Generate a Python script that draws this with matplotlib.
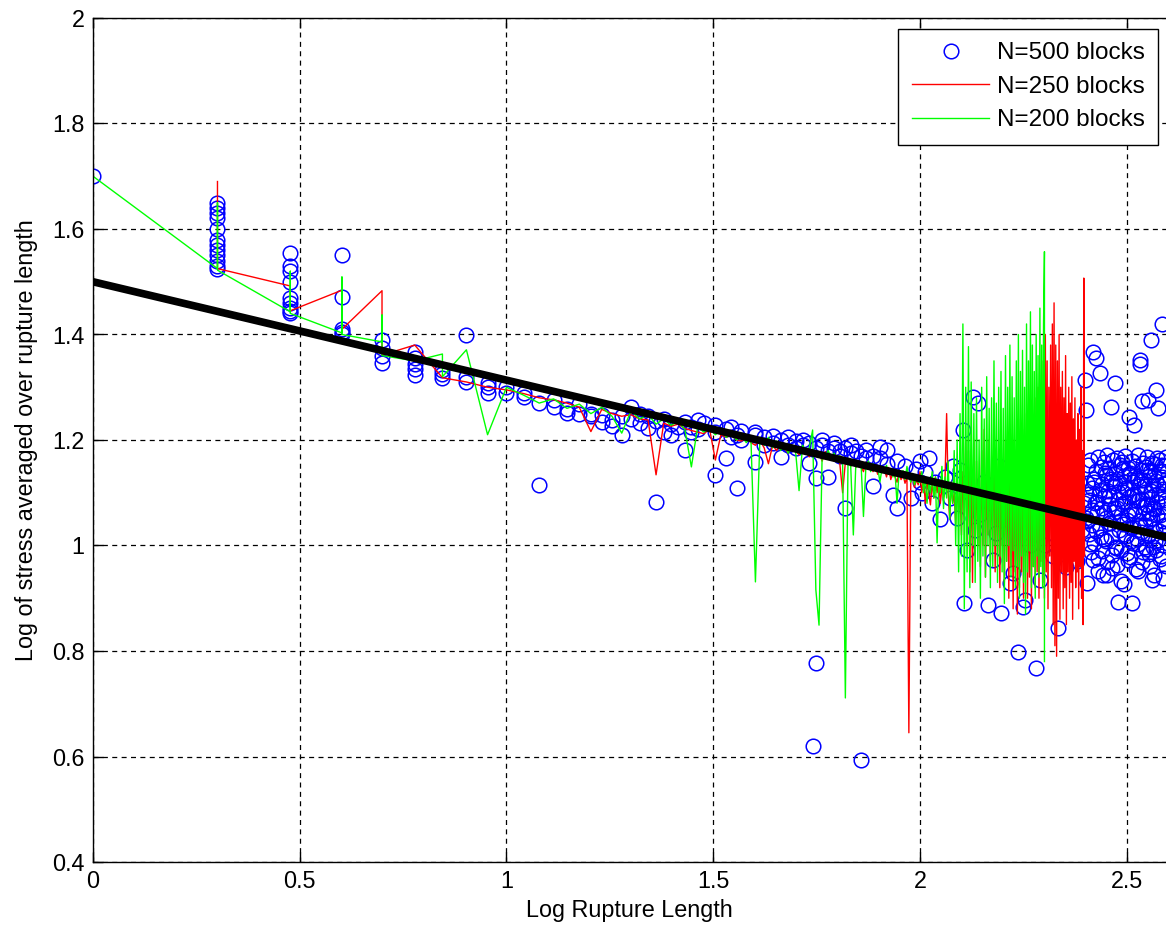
import numpy as np
import matplotlib.pyplot as plt

# rupture lengths (blocks) and log stress

# N=500 blocks (blue circles)
blue_len_a = [1,
              2, 2, 2, 2, 2, 2, 2, 2, 2, 2, 2, 2,
              3, 3, 3, 3, 3, 3, 3, 3, 3,
              4, 4, 4, 4, 4,
              5, 5, 5, 5,
              6, 6, 6, 6, 6,
              7, 7, 7,
              8, 8, 8,
              9, 9, 9,
              10, 10]
blue_val_a = [1.70,
              1.525, 1.53, 1.54, 1.55, 1.56, 1.57, 1.58, 1.60, 1.62, 1.63, 1.64, 1.65,
              1.44, 1.445, 1.45, 1.46, 1.47, 1.50, 1.52, 1.53, 1.555,
              1.40, 1.405, 1.41, 1.472, 1.551,
              1.346, 1.36, 1.375, 1.39,
              1.323, 1.335, 1.345, 1.355, 1.367,
              1.318, 1.325, 1.333,
              1.31, 1.32, 1.399,
              1.289, 1.30, 1.308,
              1.29, 1.30]

blue_len_b = [11, 11, 12, 12, 13, 13, 14, 14, 15, 15,
              16, 16, 17, 17, 18, 18, 19, 19, 20, 20,
              21, 21, 22, 22, 23, 23, 24, 24, 25, 25,
              26, 27, 27, 28, 28, 29, 29, 30, 32, 32,
              32, 34, 34, 35, 35, 36, 36, 37, 37, 40,
              40, 40, 42, 42, 44, 44, 46, 46, 48, 48,
              50, 50, 52, 52, 54, 54, 55, 56, 56, 56,
              58, 58, 60, 60, 62, 62, 64, 64, 66, 66,
              68, 68, 70, 72, 72, 74, 74, 77, 77, 80,
              80, 83, 83, 86, 88, 88, 92, 95, 98, 100,
              100]
blue_val_b = [1.29, 1.282, 1.27, 1.115, 1.275, 1.262, 1.251, 1.258, 1.25, 1.268,
              1.245, 1.25, 1.235, 1.248, 1.238, 1.226, 1.21, 1.245, 1.263, 1.24,
              1.232, 1.25, 1.222, 1.245, 1.083, 1.236, 1.215, 1.24, 1.23, 1.21,
              1.225, 1.181, 1.235, 1.215, 1.225, 1.238, 1.22, 1.232, 1.134, 1.215,
              1.228, 1.166, 1.22, 1.205, 1.225, 1.109, 1.21, 1.2, 1.218, 1.159,
              1.21, 1.216, 1.205, 1.19, 1.195, 1.208, 1.168, 1.2, 1.19, 1.205,
              1.198, 1.185, 1.19, 1.2, 1.156, 1.195, 0.62, 1.128, 1.185, 0.777,
              1.19, 1.2, 1.13, 1.18, 1.185, 1.195, 1.17, 1.18, 1.071, 1.185,
              1.19, 1.175, 1.18, 0.593, 1.17, 1.181, 1.165, 1.112, 1.17, 1.187,
              1.165, 1.181, 1.155, 1.096, 1.071, 1.16, 1.15, 1.09, 1.145, 1.12,
              1.16]

blue_len_c = [101, 103, 105, 107, 109, 112, 115, 118, 120, 123,
              125, 127, 128, 130, 132, 134, 136, 138, 140, 143,
              146, 148, 150, 153, 155, 157, 160, 162, 165, 168,
              170, 173, 175, 177, 179, 182, 185, 188, 191, 193,
              195, 198, 201, 204, 207, 210, 213, 216, 219, 222,
              225, 228, 231, 234, 237, 240, 243, 246, 249]
blue_val_c = [1.10, 1.14, 1.166, 1.08, 1.12, 1.05, 1.13, 1.09, 1.15, 1.052,
              1.143, 1.219, 0.891, 0.991, 1.10, 1.282, 1.029, 1.27, 1.06, 1.12,
              0.887, 1.08, 0.972, 1.024, 1.15, 0.872, 1.10, 1.05, 0.929, 0.948,
              1.12, 0.799, 1.04, 0.884, 0.897, 1.10, 1.0, 1.15, 0.768, 1.05,
              0.935, 1.12, 1.0, 1.08, 1.15, 0.98, 1.10, 0.844, 1.04, 1.12,
              0.96, 1.06, 1.14, 1.0, 1.09, 0.97, 1.12, 1.03, 1.08]

# cloud beyond the end of the shorter runs (lengths 251..394)
cloud_len_a = list(range(251, 395))
cloud_a = [1.314, 1.257, 1.118, 1.046, 1.153, 1.021, 1.087, 1.163, 0.987, 1.109,
           1.038, 1.367, 1.127, 1.004, 1.081, 1.355, 1.141, 1.062, 1.168, 0.976,
           1.097, 1.327, 1.033, 1.149, 1.072, 1.116, 0.945, 1.158, 1.012, 1.093,
           1.134, 1.052, 1.171, 0.968, 1.104, 1.043, 1.147, 1.079, 1.263, 1.017,
           1.123, 0.958, 1.162, 1.064, 1.112, 1.308, 0.997, 1.138, 1.071, 1.166,
           0.893, 1.088, 1.029, 1.152, 1.119, 0.991, 1.057, 1.159, 1.041, 1.102,
           1.131, 0.927, 1.083, 1.169, 1.018, 1.107, 1.049, 1.146, 0.973, 1.092,
           1.244, 1.137, 1.008, 1.068, 0.891, 1.161, 1.121, 1.036, 1.228, 1.098,
           1.059, 1.151, 0.955, 1.128, 1.084, 1.002, 1.172, 1.047, 1.113, 1.352,
           1.345, 1.026, 1.143, 1.089, 1.273, 0.988, 1.157, 1.073, 1.124, 1.039,
           1.101, 1.148, 0.993, 1.077, 1.167, 1.275, 1.019, 1.132, 1.061, 0.962,
           1.139, 1.091, 1.39, 1.053, 1.156, 0.998, 1.114, 0.944, 1.069, 1.154,
           1.031, 1.122, 1.295, 1.082, 1.165, 1.26, 1.011, 1.099, 1.142, 1.058,
           1.163, 0.981, 1.094, 1.42, 1.129, 1.037, 1.108, 0.938, 1.151, 1.074,
           1.117, 1.024, 1.168, 1.086]
cloud_len_b = list(range(252, 395, 2))
cloud_b = [1.052, 0.929, 1.097, 1.003, 1.068, 0.972, 1.121, 1.028, 1.083, 0.951,
           1.106, 1.017, 0.989, 1.063, 1.138, 1.009, 0.945, 1.093, 1.042, 1.127,
           0.982, 1.071, 1.118, 0.996, 0.963, 1.102, 1.047, 0.932, 1.079, 1.147,
           1.021, 1.109, 0.986, 1.058, 1.136, 0.978, 1.034, 1.096, 1.004, 1.066,
           1.131, 1.013, 0.952, 1.087, 1.039, 1.124, 0.968, 1.061, 1.112, 0.997,
           1.078, 1.143, 1.018, 0.983, 1.051, 1.104, 0.934, 1.072, 1.133, 1.008,
           0.992, 1.057, 1.114, 1.027, 0.974, 1.089, 1.152, 1.001, 1.046, 1.119,
           1.038, 0.961]

# N=250 blocks (red line)
red_len_a = [2, 2, 3, 3, 4, 4, 5, 5, 6, 7, 8, 9]
red_val_a = [1.69, 1.525, 1.492, 1.445, 1.484, 1.41, 1.483, 1.361, 1.38, 1.318, 1.31, 1.30]
red_val_b = [1.295, 1.288, 1.28, 1.276, 1.27, 1.262, 1.216, 1.258, 1.25, 1.245,   # L 10-19
             1.248, 1.24, 1.238, 1.134, 1.232, 1.226, 1.23, 1.222, 1.218, 1.215,
             1.212, 1.22, 1.162, 1.21, 1.205, 1.21, 1.2, 1.198, 1.205, 1.195,
             1.19, 1.2, 1.185, 1.155, 1.19, 1.18, 1.192, 1.185, 1.175, 1.19,
             1.18, 1.172, 1.186, 1.176, 1.168, 1.18, 1.17, 1.175, 1.16, 1.178,
             1.165, 1.172, 1.16, 1.17, 1.155, 1.10, 1.158, 1.165, 1.15, 1.162,
             1.148, 1.16, 1.15, 1.14, 1.158, 1.145, 1.155, 1.14, 1.152, 1.135,
             1.15, 1.138, 1.145, 1.13, 1.148, 1.125, 1.14, 1.13, 1.12, 1.138,
             1.125, 1.135, 1.118, 1.13, 0.645, 1.12, 1.13, 1.11, 1.125, 1.115]
red_val_c = [1.14, 1.1, 1.13, 1.08, 1.12, 1.1, 1.077, 1.12, 1.09, 1.13,          # L 100-109
             1.1, 1.12, 1.08, 1.11, 1.09, 1.13, 1.25, 1.1, 1.05, 1.12,
             1.08, 1.1, 1.04, 1.12, 1.06, 1.1, 1.02, 1.14, 1.05, 1.2,
             1.0, 1.18, 0.95, 1.15, 0.93, 1.2, 0.98, 1.16, 1.0, 1.12,
             0.96, 1.18, 1.0, 1.22, 0.94, 1.15, 1.02, 1.2, 0.97, 1.14,
             1.0, 1.2, 0.95, 1.16, 0.98, 1.18, 0.92, 1.15, 1.0, 1.12,
             0.93, 1.2, 0.97, 1.18, 0.9, 1.22, 0.96, 1.16, 0.88, 1.2,
             0.95, 1.18, 0.87, 1.24, 0.92, 1.2, 0.95, 1.22, 0.9, 1.18,
             0.98, 1.25, 0.9, 1.2, 0.94, 1.26, 0.88, 1.22, 0.96, 1.2,
             0.92, 1.28, 0.95, 1.3, 0.9, 1.25, 0.97, 1.35, 0.93, 1.3,
             0.9, 1.4, 0.95, 1.35, 0.88, 1.3, 0.98, 1.38, 0.92, 1.42,
             0.85, 1.46, 0.81, 1.38, 0.79, 1.35, 0.9, 1.4, 0.86, 1.3,
             0.95, 1.33, 0.88, 1.28, 0.92, 1.36, 0.85, 1.25, 0.95, 1.3,
             0.9, 1.27, 0.93, 1.32, 0.86, 1.24, 0.97, 1.28, 0.92, 1.2,
             0.95, 1.25, 0.88, 1.22, 0.96, 1.3, 0.9, 1.18, 0.85, 1.507, 0.98]

# N=200 blocks (green line)
green_len_a = [1, 2, 2, 2, 3, 3, 3, 4, 4, 4, 5, 5, 5, 6, 7, 7, 8, 9]
green_val_a = [1.70, 1.525, 1.65, 1.522, 1.443, 1.52, 1.44, 1.403, 1.509, 1.40,
               1.386, 1.437, 1.36, 1.35, 1.363, 1.32, 1.371, 1.21]
green_val_b = [1.30, 1.285, 1.27, 1.278, 1.26, 1.268, 1.25, 1.262, 1.245, 1.213,  # L 10-19
               1.255, 1.24, 1.248, 1.23, 1.24, 1.228, 1.235, 1.22, 1.149, 1.225,
               1.215, 1.222, 1.21, 1.218, 1.205, 1.212, 1.2, 1.21, 1.195, 1.205,
               0.931, 1.2, 1.19, 1.205, 1.185, 1.198, 1.18, 1.192, 1.175, 1.188,
               1.18, 1.104, 1.19, 1.178, 1.185, 1.219, 0.916, 0.849, 1.175, 1.17,
               1.18, 1.165, 1.175, 1.16, 1.17, 1.155, 0.711, 1.165, 1.15, 1.02,
               1.16, 1.15, 1.158, 1.055, 1.15, 1.16, 1.14, 1.155, 1.145, 1.15,
               1.12, 1.148, 1.14, 1.152, 1.135, 1.145, 1.13, 1.14, 1.08, 1.138,
               1.13, 1.142, 1.125, 1.15, 1.13, 1.12, 1.135, 1.115, 1.13, 1.12]
green_val_c = [1.12, 1.14, 1.1, 1.13, 1.08, 1.12, 1.1, 1.14, 1.09, 1.13,          # L 100-109
               1.005, 1.12, 1.1, 1.15, 1.07, 1.13, 1.09, 1.16, 1.05, 1.12,
               1.08, 1.18, 1.0, 1.2, 0.95, 1.25, 0.98, 1.42, 0.88, 1.3,
               0.95, 1.377, 0.92, 1.31, 1.0, 1.25, 0.93, 1.28, 0.97, 1.2,
               0.9, 1.3, 0.98, 1.24, 0.94, 1.32, 1.0, 1.26, 0.92, 1.28,
               0.96, 1.35, 1.0, 1.27, 0.93, 1.3, 0.98, 1.33, 0.95, 1.26,
               0.89, 1.36, 0.97, 1.3, 1.0, 1.38, 0.94, 1.32, 0.99, 1.28,
               0.92, 1.35, 0.96, 1.4, 0.9, 1.33, 0.98, 1.37, 0.93, 1.3,
               0.87, 1.42, 0.95, 1.35, 0.99, 1.443, 0.92, 1.38, 0.96, 1.33,
               0.9, 1.4, 0.98, 1.36, 0.94, 1.45, 0.96, 1.38, 0.92, 1.42,
               1.557, 0.78]                                                      # L 200

# straight fit line
fit_x = [0, 2.6]
fit_y = [1.5, 1.015]

blue_len = blue_len_a + blue_len_b + blue_len_c + cloud_len_a + cloud_len_b
blue_val = blue_val_a + blue_val_b + blue_val_c + cloud_a + cloud_b
red_len = red_len_a + list(range(10, 100)) + list(range(100, 251))
red_val = red_val_a + red_val_b + red_val_c
green_len = green_len_a + list(range(10, 100)) + list(range(100, 200)) + [200, 200]
green_val = green_val_a + green_val_b + green_val_c
assert len(blue_len) == len(blue_val)
assert len(red_len) == len(red_val)
assert len(green_len) == len(green_val)

plt.rcParams['font.family'] = ['Liberation Sans', 'DejaVu Sans']
fs = 16.8

fig = plt.figure(figsize=(11.66, 9.3), dpi=100)
ax = fig.add_axes([93/1166, 1 - 862/930, (1166 - 93)/1166, (862 - 18)/930])

ax.plot(np.log10(blue_len), blue_val, 'o', mfc='none', mec='b', ms=10.5, mew=1.1,
        label='N=500 blocks')
ax.plot(np.log10(red_len), red_val, color='r', lw=1.0, label='N=250 blocks')
ax.plot(np.log10(green_len), green_val, color=(0, 1, 0), lw=1.0, label='N=200 blocks')
ax.plot(fit_x, fit_y, color='k', lw=5.5, solid_capstyle='butt')

ax.set_xlim(0, 2.595)
ax.set_ylim(0.4, 2)
ax.set_xticks([0, 0.5, 1, 1.5, 2, 2.5])
ax.set_xticklabels(['0', '0.5', '1', '1.5', '2', '2.5'])
ax.set_yticks([0.4, 0.6, 0.8, 1.0, 1.2, 1.4, 1.6, 1.8, 2.0])
ax.set_yticklabels(['0.4', '0.6', '0.8', '1', '1.2', '1.4', '1.6', '1.8', '2'])
ax.tick_params(direction='in', length=7, width=1, top=True, right=False,
               labelsize=fs, pad=6)
ax.spines['right'].set_visible(False)
for s in ['left', 'top', 'bottom']:
    ax.spines[s].set_linewidth(1.0)
ax.set_axisbelow(True)
ax.grid(True, color='k', linestyle=(0, (4, 3.5)), linewidth=0.9)

ax.set_xlabel('Log Rupture Length', fontsize=fs, labelpad=4)
ax.set_ylabel('Log of stress averaged over rupture length', fontsize=fs, labelpad=10)

leg = ax.legend(loc='upper right', bbox_to_anchor=(1158/1166, 1 - 29/930),
                bbox_transform=fig.transFigure, borderaxespad=0, fontsize=17.5,
                fancybox=False, framealpha=1, edgecolor='k', handlelength=3.2,
                handletextpad=0.3, labelspacing=0.47, borderpad=0.55)
leg.get_frame().set_linewidth(1.0)

fig.savefig('out.png', dpi=100)
